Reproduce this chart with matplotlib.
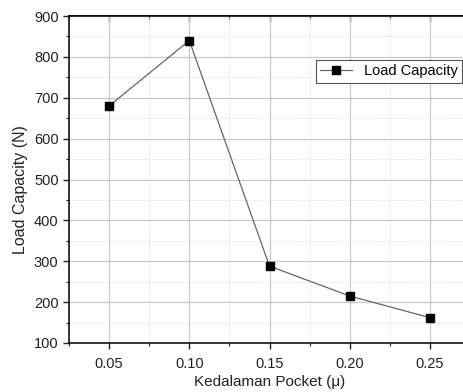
import numpy as np
import matplotlib.pyplot as plt
from matplotlib.ticker import MultipleLocator, NullFormatter

plt.rcParams['font.family'] = ['Liberation Sans', 'DejaVu Sans']

# data
depth = [0.05, 0.10, 0.15, 0.20, 0.25]
load_capacity = [680, 840, 288, 215, 162]

fig = plt.figure(figsize=(4.63, 3.92), dpi=100)
# axes run off the right edge like the original screenshot
ax = fig.add_axes([69/463, 1-343/392, 401/463, 327/392])

ax.plot(depth, load_capacity, color='#666666', lw=0.9, marker='s',
        markersize=6, markerfacecolor='black', markeredgecolor='black',
        label='Load Capacity')

ax.set_xlim(0.025, 0.275)
ax.set_ylim(100, 900)
ax.xaxis.set_major_locator(MultipleLocator(0.05))
ax.xaxis.set_minor_locator(MultipleLocator(0.025))
ax.yaxis.set_major_locator(MultipleLocator(100))
ax.yaxis.set_minor_locator(MultipleLocator(50))
ax.set_xticks(depth)
ax.set_xticklabels(['%.2f' % d for d in depth])

ax.grid(which='major', color='#c8c8c8', lw=0.9)
ax.grid(which='minor', color='#d8d8d8', lw=0.7, ls=':')
ax.set_axisbelow(True)

ax.tick_params(which='both', direction='out', labelsize=10.5, color='#222222',
               labelcolor='#222222')
ax.tick_params(axis='x', which='major', pad=6)
ax.tick_params(which='major', length=4, width=1)
ax.tick_params(which='minor', length=2.5, width=0.8)
for s in ax.spines.values():
    s.set_linewidth(1.1)

# top axis: ticks pointing in, no labels
top = ax.secondary_xaxis('top')
top.xaxis.set_major_locator(MultipleLocator(0.05))
top.xaxis.set_minor_locator(MultipleLocator(0.025))
top.xaxis.set_major_formatter(NullFormatter())
top.tick_params(which='both', direction='in', color='#222222')
top.tick_params(which='major', length=4, width=1)
top.tick_params(which='minor', length=2.5, width=0.8)
top.spines['top'].set_linewidth(1.1)

ax.set_xlabel('Kedalaman Pocket (\u03bc)', fontsize=11, labelpad=3, color='#222222')
ax.set_ylabel('Load Capacity (N)', fontsize=11.5, color='#222222')
ax.yaxis.set_label_coords(-0.102, 0.468)

leg = ax.legend(loc='upper left', bbox_to_anchor=(316/463, 1-60/392),
                bbox_transform=fig.transFigure, fontsize=10.5, fancybox=False,
                framealpha=1, edgecolor='#555555', handlelength=2.2,
                borderpad=0.3, borderaxespad=0)
leg.get_frame().set_linewidth(0.8)

fig.savefig('out.png', dpi=100)
